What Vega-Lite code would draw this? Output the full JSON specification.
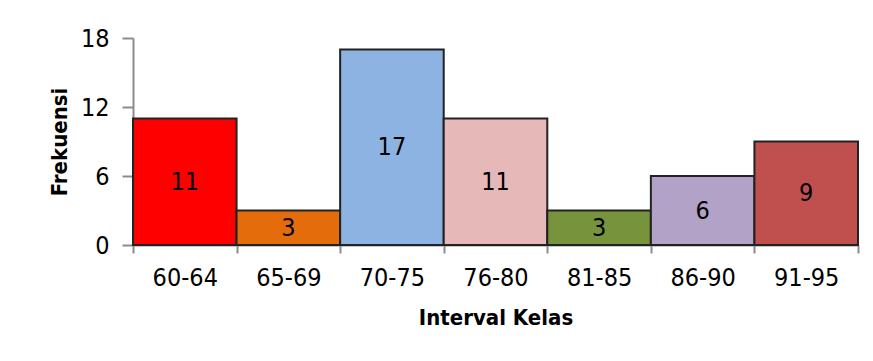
{
  "$schema": "https://vega.github.io/schema/vega-lite/v6.json",
  "width": 725,
  "height": 207,
  "autosize": {"type": "none"},
  "padding": {"left": 133, "top": 38, "right": 15, "bottom": 116},
  "background": "white",
  "config": {
    "view": {"stroke": null},
    "font": "DejaVu Sans Condensed"
  },
  "data": {
    "values": [
      {"kelas": "60-64", "frekuensi": 11, "warna": "#FF0000"},
      {"kelas": "65-69", "frekuensi": 3, "warna": "#E46C0A"},
      {"kelas": "70-75", "frekuensi": 17, "warna": "#8DB3E2"},
      {"kelas": "76-80", "frekuensi": 11, "warna": "#E6B9B8"},
      {"kelas": "81-85", "frekuensi": 3, "warna": "#77933C"},
      {"kelas": "86-90", "frekuensi": 6, "warna": "#B3A2C7"},
      {"kelas": "91-95", "frekuensi": 9, "warna": "#C0504D"}
    ]
  },
  "encoding": {
    "x": {
      "field": "kelas",
      "type": "nominal",
      "sort": null,
      "scale": {"paddingInner": 0, "paddingOuter": 0},
      "axis": {
        "title": "Interval Kelas",
        "titleFontSize": 22,
        "titleFontWeight": "bold",
        "titleColor": "#000",
        "titlePadding": 17,
        "labelAngle": 0,
        "labelFontSize": 25,
        "labelColor": "#000",
        "labelPadding": 12,
        "tickBand": "extent",
        "tickSize": 8,
        "tickWidth": 2,
        "tickColor": "#8c8c8c",
        "domainColor": "#8c8c8c",
        "domainWidth": 2
      }
    },
    "y": {
      "field": "frekuensi",
      "type": "quantitative",
      "scale": {"domain": [0, 18], "nice": false},
      "axis": {
        "title": "Frekuensi",
        "titleFontSize": 22,
        "titleFontWeight": "bold",
        "titleColor": "#000",
        "titlePadding": 9,
        "values": [0, 6, 12, 18],
        "grid": false,
        "labelFontSize": 25,
        "labelColor": "#000",
        "labelPadding": 13,
        "tickSize": 11,
        "tickWidth": 2,
        "tickColor": "#8c8c8c",
        "domainColor": "#8c8c8c",
        "domainWidth": 2
      }
    }
  },
  "layer": [
    {
      "mark": {"type": "bar", "stroke": "#222", "strokeWidth": 2},
      "encoding": {
        "color": {"field": "warna", "type": "nominal", "scale": null, "legend": null}
      }
    },
    {
      "transform": [{"calculate": "datum.frekuensi / 2", "as": "tengah"}],
      "mark": {"type": "text", "fontSize": 25, "color": "#000", "baseline": "middle", "align": "center"},
      "encoding": {
        "y": {"field": "tengah", "type": "quantitative"},
        "text": {"field": "frekuensi", "type": "quantitative"}
      }
    }
  ]
}
